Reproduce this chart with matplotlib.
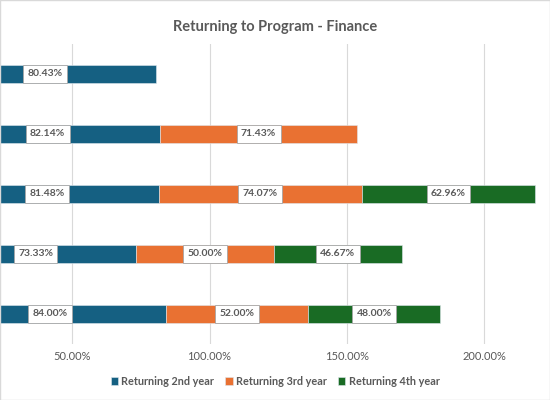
import numpy as np
import matplotlib
matplotlib.use("Agg")
import matplotlib.pyplot as plt
from matplotlib.patches import Rectangle

plt.rcParams['font.family'] = ['Lato', 'DejaVu Sans']

# rows from top to bottom; NaN = no bar
cohorts = ["A", "B", "C", "D", "E"]
year2 = [80.43, 82.14, 81.48, 73.33, 84.00]
year3 = [np.nan, 71.43, 74.07, 50.00, 52.00]
year4 = [np.nan, np.nan, 62.96, 46.67, 48.00]
series = ["Returning 2nd year", "Returning 3rd year", "Returning 4th year"]
colors = ["#156082", "#E97132", "#196B24"]
ticks = [50, 100, 150, 200]

fig = plt.figure(figsize=(5.5, 4), dpi=100)
ax = fig.add_axes([0, 0.14, 1, 0.75])

y = np.arange(len(cohorts))
left = np.zeros(len(cohorts))
for name, vals, c in zip(series, [year2, year3, year4], colors):
    vals = np.array(vals)
    ok = ~np.isnan(vals)
    ax.barh(y[ok], vals[ok], left=left[ok], height=0.3, color=c,
            edgecolor="#dfe7ee", linewidth=0.4, label=name, zorder=2)
    for yi, v, l in zip(y[ok], vals[ok], left[ok]):
        ax.text(l + v / 2, yi, f"{v:.2f}%", ha="center", va="center",
                fontsize=7.5, fontweight="bold", color="#595959", zorder=3,
                bbox=dict(boxstyle="square,pad=0.42", fc="white", ec="#a6a6a6", lw=0.6))
    left[ok] += vals[ok]

ax.set_ylim(len(cohorts) - 0.5, -0.5)
ax.set_xlim(23.7, 224)
ax.set_yticks([])
ax.set_xticks(ticks)
ax.set_xticklabels([f"{t:.2f}%" for t in ticks], color="#595959", fontsize=8)
ax.tick_params(axis="x", length=0, pad=5)
ax.grid(axis="x", color="#d9d9d9", lw=0.8, zorder=0)
for s in ax.spines.values():
    s.set_visible(False)

fig.suptitle("Returning to Program - Finance", y=0.95, fontsize=10.5,
             fontweight="bold", color="#595959")
fig.legend(loc="center", bbox_to_anchor=(0.5, 0.047), ncol=3, frameon=False,
           prop=dict(size=7.8, weight="bold"), handlelength=0.7, handleheight=0.7,
           handletextpad=0.3, columnspacing=1.0, labelcolor="#595959")
fig.patches.append(Rectangle((0, 0), 1, 1, transform=fig.transFigure,
                             fill=False, ec="#d9d9d9", lw=1))

fig.savefig("out.png", dpi=100)
